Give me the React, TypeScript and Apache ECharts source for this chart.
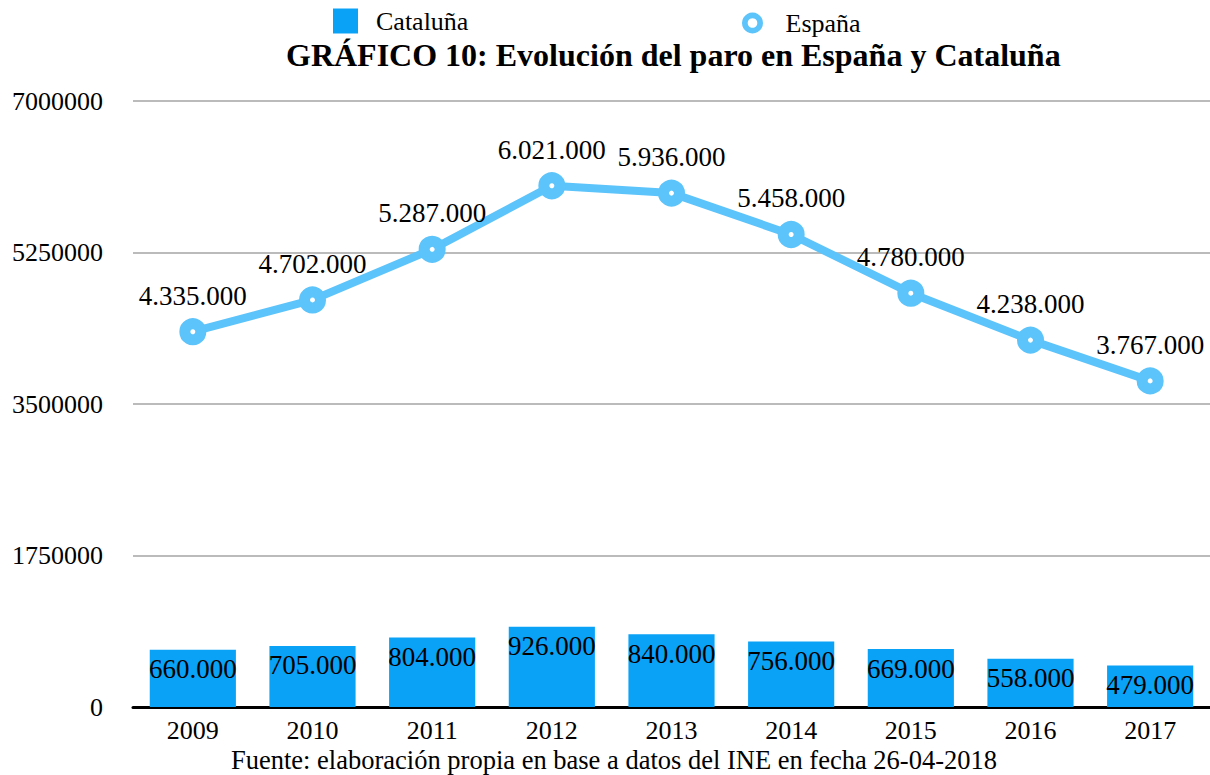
import React, { useEffect, useRef } from "react";
import * as echarts from "echarts";

const years = ["2009", "2010", "2011", "2012", "2013", "2014", "2015", "2016", "2017"];
const cataluna = [660000, 705000, 804000, 926000, 840000, 756000, 669000, 558000, 479000];
const espana = [4335000, 4702000, 5287000, 6021000, 5936000, 5458000, 4780000, 4238000, 3767000];
const titleText = "GRÁFICO 10: Evolución del paro en España y Cataluña";
const sourceText = "Fuente: elaboración propia en base a datos del INE en fecha 26-04-2018";

const FONT = "Liberation Serif";
const BAR = "#0aa2f7";
const LINE = "#5cc3fb";
const fmt = (v: number) => String(v).replace(/\B(?=(\d{3})+(?!\d))/g, ".");
const RING = "path://M12,0A12,12 0 1,1 11.99,0ZM12,6.5A5.5,5.5 0 1,0 12.01,6.5Z";

export default function App() {
  const ref = useRef<HTMLDivElement>(null);
  useEffect(() => {
    document.body.style.margin = "0";
    const chart = echarts.init(ref.current!, null, { renderer: "svg" });
    chart.setOption({
      animation: false,
      textStyle: { fontFamily: FONT, color: "#000" },
      title: {
        text: titleText,
        left: 281,
        top: 34,
        textStyle: { fontFamily: FONT, fontSize: 32, fontWeight: "bold", color: "#000" },
      },
      legend: [
        {
          top: 3,
          left: 328,
          itemWidth: 25,
          itemHeight: 25,
          textStyle: { fontFamily: FONT, fontSize: 26, color: "#000", padding: [0, 0, 0, 13] },
          data: [{ name: "Cataluña", icon: "rect" }],
        },
        {
          top: 5,
          left: 737,
          itemWidth: 24,
          itemHeight: 21,
          textStyle: { fontFamily: FONT, fontSize: 26, color: "#000", padding: [0, 0, 0, 16] },
          data: [{ name: "España", icon: RING, itemStyle: { color: LINE, borderWidth: 0 } }],
        },
      ],
      graphic: [
        {
          type: "text",
          x: 614,
          y: 746,
          style: {
            text: sourceText,
            fontFamily: FONT,
            fontSize: 26.5,
            fill: "#000",
            align: "center",
          },
        },
      ],
      grid: { left: 133, top: 101, width: 1080, height: 606 },
      xAxis: {
        type: "category",
        data: years,
        axisLine: { lineStyle: { color: "#000", width: 3 } },
        axisTick: { show: false },
        axisLabel: { fontFamily: FONT, fontSize: 26, color: "#000", margin: 10 },
      },
      yAxis: {
        type: "value",
        min: 0,
        max: 7000000,
        interval: 1750000,
        axisLine: { show: false },
        axisTick: { show: false },
        splitLine: { lineStyle: { color: "#bbbbbb", width: 2 } },
        axisLabel: {
          fontFamily: FONT,
          fontSize: 26,
          color: "#000",
          margin: 30,
          formatter: (v: number) => String(v),
        },
      },
      series: [
        {
          name: "Cataluña",
          type: "bar",
          data: cataluna,
          barWidth: "72%",
          itemStyle: { color: BAR },
          label: {
            show: true,
            position: "insideTop",
            distance: 6,
            formatter: (p: any) => fmt(p.value),
            fontFamily: FONT,
            fontSize: 27,
            color: "#000",
          },
        },
        {
          name: "España",
          type: "line",
          data: espana,
          symbol: "circle",
          symbolSize: 16,
          lineStyle: { color: LINE, width: 8 },
          itemStyle: { color: "#fff", borderColor: LINE, borderWidth: 11 },
          label: {
            show: true,
            position: "top",
            distance: 9,
            formatter: (p: any) => fmt(p.value),
            fontFamily: FONT,
            fontSize: 27,
            color: "#000",
          },
        },
      ],
    });
    return () => chart.dispose();
  }, []);
  return <div ref={ref} style={{ width: 1210, height: 775 }} />;
}
